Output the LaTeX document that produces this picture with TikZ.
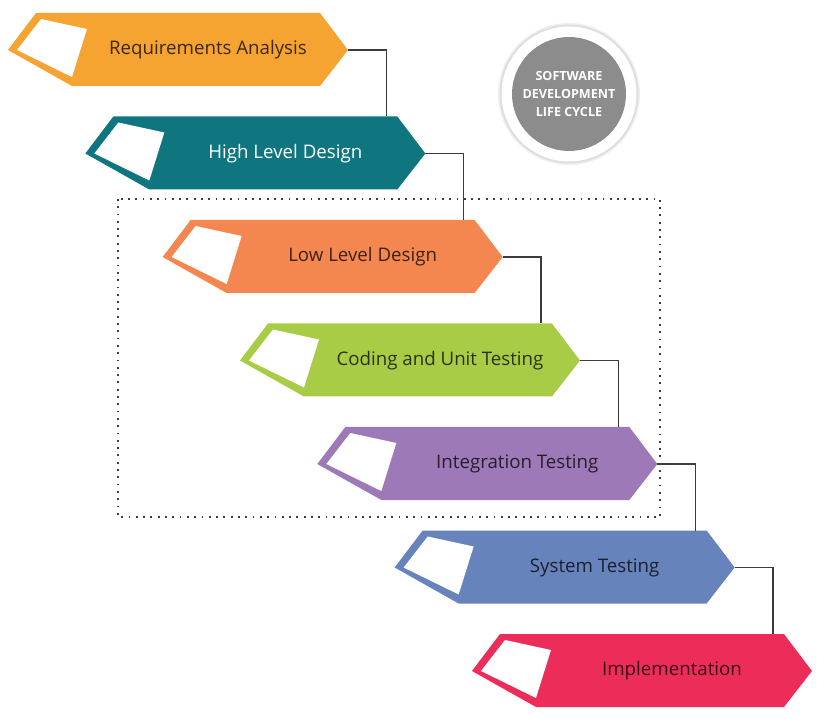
\documentclass[tikz,border=0pt]{standalone}
\usepackage{fontspec}
\setmainfont{Open Sans}
\usetikzlibrary{positioning}
\definecolor{reqorange}{RGB}{245,163,49}
\definecolor{hldteal}{RGB}{15,118,128}
\definecolor{lldorange}{RGB}{244,135,79}
\definecolor{cutgreen}{RGB}{168,204,69}
\definecolor{intpurple}{RGB}{158,121,183}
\definecolor{sysblue}{RGB}{102,132,187}
\definecolor{impred}{RGB}{236,44,89}
\definecolor{badgegray}{RGB}{140,140,140}
\definecolor{linkgray}{RGB}{60,60,60}

\begin{document}
\begin{tikzpicture}[x=1pt,y=-1pt,
    steplabel/.style={font=\fontsize{18.7}{22}\selectfont},
    darkink/.style={text=black,text opacity=.75},
    lightink/.style={text=white},
    link/.style={draw=linkgray,line width=1.3pt},
    dotbox/.style={draw=linkgray,line width=1.8pt,dash pattern=on 1.8pt off 5.5pt},
    badge/.style={circle,fill=badgegray,minimum size=114pt,inner sep=0pt,align=center,
      text=white,font=\bfseries\fontsize{12.6}{18}\selectfont}]
  \useasboundingbox (0,0) rectangle (820,719);
  \fill[white] (0,0) rectangle (820,719);

  % box round the design and testing steps
  \draw[dotbox] (118,199) rectangle (660,517);

  % the seven steps, each one down and to the right of the last
  \foreach \i/\name/\col/\ink/\lbl in {
      0/req/reqorange/darkink/Requirements Analysis,
      1/hld/hldteal/lightink/High Level Design,
      2/lld/lldorange/darkink/Low Level Design,
      3/cut/cutgreen/darkink/Coding and Unit Testing,
      4/int/intpurple/darkink/Integration Testing,
      5/sys/sysblue/darkink/System Testing,
      6/imp/impred/darkink/Implementation}{
    \begin{scope}[shift={(8+77.33*\i,50+103.5*\i)}]
      \fill[\col] (0,0) -- (28,-37) -- (312,-37) -- (340,0) -- (312,36) -- (64,36) -- cycle;
      \fill[white] (33,-31) -- (79,-21) -- (64,27) -- (9,0) -- cycle;
      \node[steplabel,\ink] (\name) at (200,0) {\lbl};
      \coordinate (\name-tip) at (340,0);
      \coordinate (\name-in) at (301,-37);
    \end{scope}
  }

  \foreach \a/\b in {req/hld,hld/lld,lld/cut,cut/int,int/sys,sys/imp}
    \draw[link] (\a-tip) -| (\b-in);

  % title badge
  \fill[black!6] (569,94) circle (71pt);
  \fill[black!13] (569,94) circle (69.5pt);
  \fill[white] (569,94) circle (67.5pt);
  \node[badge] (sdlc) at (569,94) {SOFTWARE\\DEVELOPMENT\\LIFE CYCLE};
\end{tikzpicture}
\end{document}
